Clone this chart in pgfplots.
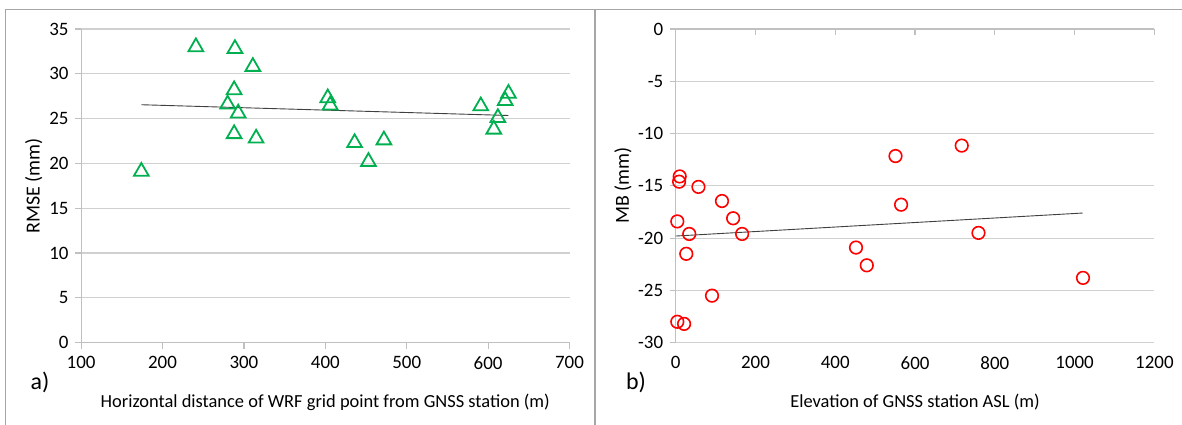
\documentclass[border=0pt]{standalone}
\usepackage{pgfplots}
\pgfplotsset{compat=1.18}
\usepackage{fontspec}
\setmainfont{Carlito}
\definecolor{gridc}{HTML}{D0D0D0}
\definecolor{axc}{HTML}{C0C0C0}
\definecolor{framec}{HTML}{A6A6A6}
\definecolor{mgreen}{HTML}{00B050}
\definecolor{trend}{HTML}{404040}
\pgfplotsset{
  excel/.style={
    scale only axis,
    anchor=south west,
    /pgf/number format/assume math mode=true,
    /pgf/number format/1000 sep={},
    tick label style={font=\fontsize{19}{22}\selectfont, text=black},
    label style={font=\fontsize{18.5}{22}\selectfont},
    ymajorgrids,
    grid style={gridc, line width=1.2bp},
    axis line style={axc, line width=1.2bp},
    major tick style={axc, line width=1.2bp},
    major tick length=6bp,
    tick align=outside,
    clip=false,
  }
}
\begin{document}
\begin{tikzpicture}
\path[use as bounding box] (0,0) rectangle (1182bp,425bp);
\fill[white] (0,0) rectangle (1182bp,425bp);
\draw[framec, line width=1.5bp] (5.7bp,0) -- (5.7bp,415.5bp) -- (1182bp,415.5bp);
\draw[framec, line width=1.2bp] (595bp,0) -- (595bp,415.5bp);

\begin{axis}[excel,
  at={(81.1bp,82.3bp)}, width=488.4bp, height=313.7bp,
  xmin=100, xmax=700, ymin=0, ymax=35,
  xtick={100,200,...,700}, ytick={0,5,...,35},
  axis x line*=bottom, axis y line*=left,
  xticklabel style={yshift=-4bp},
  yticklabel style={xshift=-3bp},
  xlabel={Horizontal distance of WRF grid point from GNSS station (m)},
  ylabel={RMSE (mm)},
  xlabel style={at={(axis description cs:0.5,-0.189)}, anchor=center},
  ylabel style={at={(axis description cs:-0.097,0.5)}, anchor=center, rotate=0, font=\fontsize{20}{22}\selectfont},
]
\addplot[only marks, mark=triangle, mark size=8.5bp, mgreen, mark options={line width=1.8bp, fill=none}] coordinates {
(174,19.1) (241,33.0) (289,32.8) (311,30.8) (288,28.2) (280,26.6) (293,25.6)
(288,23.3) (315,22.8) (403,27.3) (406,26.5) (436,22.3) (453,20.2) (472,22.6)
(591,26.4) (607,23.8) (612,25.1) (621,27.0) (625,27.8)};
\addplot[trend, line width=0.9bp, no marks] coordinates {(174,26.55) (625,25.35)};
\end{axis}

% right panel: labels at the bottom, no line/ticks at the bottom
\begin{axis}[excel,
  at={(675.7bp,82.3bp)}, width=478.7bp, height=313.7bp,
  xmin=0, xmax=1200, ymin=-30, ymax=0,
  xtick={0,200,...,1200}, ytick={-30,-25,...,0},
  axis x line*=bottom, axis y line*=left,
  x axis line style={draw=none},
  x tick style={draw=none},
  xticklabel style={yshift=-4bp},
  yticklabel style={xshift=-3bp},
  xlabel={Elevation of GNSS station ASL (m)},
  ylabel={MB (mm)},
  xlabel style={at={(axis description cs:0.5,-0.189)}, anchor=center},
  ylabel style={at={(axis description cs:-0.110,0.5)}, anchor=center, rotate=0, font=\fontsize{20}{22}\selectfont},
]
\addplot[only marks, mark=o, mark size=6.3bp, red, mark options={line width=1.6bp}] coordinates {
(4,-18.4) (10,-14.1) (8.5,-14.6) (57,-15.1) (34,-19.6) (26.5,-21.5) (4,-28.0)
(21,-28.2) (91,-25.5) (116,-16.45) (144,-18.1) (166.5,-19.6) (452,-20.9)
(479,-22.6) (551,-12.15) (565,-16.8) (717,-11.15) (759,-19.5) (1021,-23.8)};
\addplot[trend, line width=0.9bp, no marks] coordinates {(0,-19.8) (1020,-17.6)};
\end{axis}
% right panel: top axis line with inward ticks, no labels
\begin{axis}[excel,
  at={(675.7bp,82.3bp)}, width=478.7bp, height=313.7bp,
  xmin=0, xmax=1200, ymin=-30, ymax=0,
  xtick={0,200,...,1200}, ytick=\empty, ymajorgrids=false,
  axis x line*=top, axis y line=none,
  xticklabels={}, tick align=inside, major tick length=6.5bp,
]
\end{axis}

\node[font=\fontsize{24}{28}\selectfont] at (40bp,43bp) {a)};
\node[font=\fontsize{24}{28}\selectfont] at (636bp,43bp) {b)};
\end{tikzpicture}
\end{document}
